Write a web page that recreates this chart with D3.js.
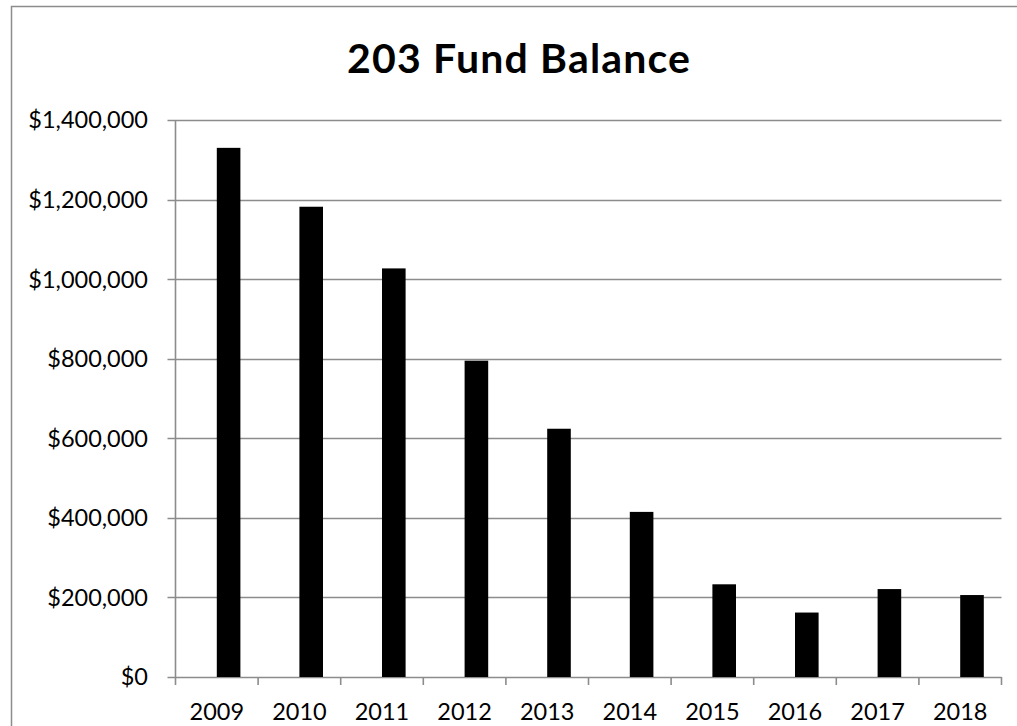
<!DOCTYPE html>
<html>
<head>
<meta charset="utf-8">
<script src="https://cdn.jsdelivr.net/npm/d3@7"></script>
<style>
  html, body { margin: 0; padding: 0; background: #fff; }
  svg { display: block; }
</style>
</head>
<body>
<svg id="chart" width="1017" height="726"></svg>
<script>
const categories = ["2009", "2010", "2011", "2012", "2013", "2014", "2015", "2016", "2017", "2018"];
const values = [1330000, 1182000, 1027000, 795000, 624000, 415000, 233000, 162000, 221000, 206000];
const yTicks = [0, 200000, 400000, 600000, 800000, 1000000, 1200000, 1400000];
const title = "203 Fund Balance";

const W = 1017, H = 726;
const plot = { left: 175.5, right: 1001.5, top: 120, bottom: 677 };
const FONT = "Lato, 'Open Sans', sans-serif";
const gridColor = "#8c8c8c";

const svg = d3.select("#chart");

// outer chart border (extends beyond right/bottom)
svg.append("rect")
  .attr("x", 11.5).attr("y", 6.5)
  .attr("width", W + 20).attr("height", H + 20)
  .attr("fill", "#fff").attr("stroke", "#8c8c8c").attr("stroke-width", 1.5);

const x = d3.scaleBand().domain(categories).range([plot.left, plot.right]).paddingInner(0).paddingOuter(0);
const y = d3.scaleLinear().domain([0, 1400000]).range([plot.bottom, plot.top]);

// gridlines
svg.append("g").selectAll("line").data(yTicks).join("line")
  .attr("x1", plot.left - 8).attr("x2", plot.right)
  .attr("y1", d => Math.round(y(d)) + 0.5).attr("y2", d => Math.round(y(d)) + 0.5)
  .attr("stroke", gridColor).attr("stroke-width", 1.6);

// y axis line
svg.append("line")
  .attr("x1", plot.left).attr("x2", plot.left)
  .attr("y1", plot.top).attr("y2", plot.bottom + 8)
  .attr("stroke", gridColor).attr("stroke-width", 1.6);

// x-axis ticks (category boundaries)
const bounds = categories.map(c => x(c)).concat([plot.right]);
svg.append("g").selectAll("line").data(bounds.slice(1)).join("line")
  .attr("x1", d => d).attr("x2", d => d)
  .attr("y1", plot.bottom).attr("y2", plot.bottom + 8)
  .attr("stroke", gridColor).attr("stroke-width", 1.6);

// bars: second series of a 2-series cluster with gap 150%
const barW = x.bandwidth() / 3.5;
svg.append("g").selectAll("rect").data(categories).join("rect")
  .attr("x", (d) => x(d) + x.bandwidth() / 2)
  .attr("width", barW)
  .attr("y", (d, i) => y(values[i]))
  .attr("height", (d, i) => y(0) - y(values[i]))
  .attr("fill", "#000");

// y tick labels
const fmt = d => "$" + d3.format(",")(d);
svg.append("g").selectAll("text").data(yTicks).join("text")
  .attr("x", 148).attr("y", d => y(d))
  .attr("dy", "0.36em")
  .attr("text-anchor", "end")
  .attr("font-family", FONT).attr("font-size", 23.5)
  .attr("fill", "#000")
  .text(fmt);

// x tick labels
svg.append("g").selectAll("text").data(categories).join("text")
  .attr("x", d => x(d) + x.bandwidth() / 2)
  .attr("y", 720)
  .attr("text-anchor", "middle")
  .attr("font-family", FONT).attr("font-size", 23.5)
  .attr("fill", "#000")
  .text(d => d);

// title
svg.append("text")
  .attr("x", 518.5).attr("y", 73)
  .attr("text-anchor", "middle")
  .attr("font-family", FONT).attr("font-weight", "bold").attr("font-size", 41)
  .attr("textLength", 343).attr("lengthAdjust", "spacing")
  .attr("fill", "#000")
  .text(title);
</script>
</body>
</html>
